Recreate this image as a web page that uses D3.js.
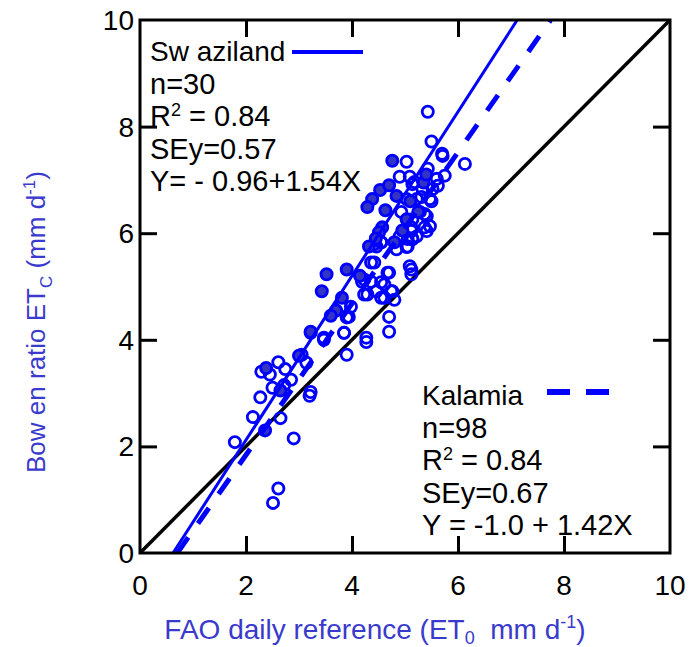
<!DOCTYPE html>
<html>
<head>
<meta charset="utf-8">
<script src="https://cdn.jsdelivr.net/npm/d3@7/dist/d3.min.js"></script>
<style>
  html, body { margin: 0; padding: 0; background: #fff; }
  svg { display: block; font-family: "Liberation Sans", Arial, sans-serif; }
  text { white-space: pre; }
</style>
</head>
<body>
<svg id="chart" width="690" height="647"></svg>
<script>
// ---------- data ----------
const xTicks = [0, 2, 4, 6, 8, 10];
const yTicks = [0, 2, 4, 6, 8, 10];

// Swaziland (filled circles)
const swazX = [4.76,4.53,4.38,4.29,4.84,4.57,4.80,4.32,5.03,4.63,3.90,3.52,3.43,3.81,3.22,2.36,2.38,4.51,5.10,5.35,5.25,4.95,3.70,3.00,2.65,4.45,5.40,4.15,3.60,4.70];
const swazY = [7.36,6.81,6.64,6.49,6.70,6.11,5.83,5.75,6.26,6.43,5.32,5.23,4.91,4.79,4.15,2.30,3.47,6.02,6.60,6.95,6.40,6.05,4.55,3.70,3.05,5.90,7.10,5.20,4.45,6.90];

// Kalamia (open circles)
const kalX = [1.79,2.13,2.27,2.65,2.90,2.61,2.51,2.29,2.61,2.74,2.50,2.72,3.14,3.22,3.05,3.22,3.47,2.45,2.85,3.20,
  4.42,4.36,4.70,4.23,4.55,4.29,4.46,4.74,4.80,4.61,5.12,5.12,3.79,3.98,3.90,3.85,3.90,4.70,4.70,4.27,3.47,5.05,5.22,4.90,4.46,4.55,4.42,4.67,4.36,4.19,4.61,4.76,4.23,4.55,3.94,3.85,4.27,
  5.43,5.50,5.71,6.13,5.03,5.09,4.90,5.43,5.60,5.75,5.52,5.33,5.14,5.47,5.22,5.03,5.28,5.14,5.41,5.37,5.12,5.14,5.05,5.47,4.55,5.62,5.18,5.31,5.50,4.93,5.37,5.12,5.41,5.14,5.03,5.09,4.84,5.70];
const kalY = [2.08,2.55,2.92,2.53,2.15,1.21,0.94,3.40,3.58,3.45,3.10,3.15,3.57,3.02,3.72,4.13,4.00,3.35,3.25,2.95,
  5.79,5.45,5.26,5.13,5.08,4.85,4.91,4.91,4.75,4.79,5.32,5.23,4.62,4.62,4.42,4.13,3.72,4.43,4.15,3.96,4.04,5.89,5.94,5.94,5.75,5.83,5.45,5.26,5.09,5.09,5.04,4.91,4.85,4.79,4.43,4.13,4.04,
  8.28,7.72,7.45,7.30,7.34,7.06,7.06,7.21,7.02,7.08,6.83,6.83,6.92,6.64,6.64,6.64,6.40,6.26,6.32,6.11,6.04,5.89,5.75,6.13,5.83,6.89,6.96,6.68,6.60,6.40,6.36,6.11,6.04,5.89,5.74,5.38,5.70,7.49];

// regression fits
const swazFit = { a: -0.96, b: 1.54 };
const kalFit = { a: -1.0, b: 1.42 };

const swazLegend = ["n=30", "R2 = 0.84", "SEy=0.57", "Y= - 0.96+1.54X"];
const kalLegend = ["n=98", "R2 = 0.84", "SEy=0.67", "Y = -1.0 + 1.42X"];

// ---------- layout ----------
const pLeft = 140, pRight = 670, pTop = 20, pBottom = 553;
const blue = "#0000ff";
const titleBlue = "#3a3acc";

const svg = d3.select("#chart");
const x = d3.scaleLinear().domain([0, 10]).range([pLeft, pRight]);
const y = d3.scaleLinear().domain([0, 10]).range([pBottom, pTop]);

const plot = svg.append("g");
const clipId = "clip";
svg.append("clipPath").attr("id", clipId)
  .append("rect").attr("x", pLeft).attr("y", pTop).attr("width", pRight - pLeft).attr("height", pBottom - pTop);

// 1:1 line
plot.append("line")
  .attr("x1", x(0)).attr("y1", y(0)).attr("x2", x(10)).attr("y2", y(10))
  .attr("stroke", "#000").attr("stroke-width", 3.5);

// fit lines
function fitLine(f) {
  const x0 = -f.a / f.b, x1 = (10 - f.a) / f.b;
  return [[x0, 0], [x1, 10]];
}
const line = d3.line().x(d => x(d[0])).y(d => y(d[1]));

// points
const pts = plot.append("g").attr("clip-path", `url(#${clipId})`);
pts.selectAll("circle.kal").data(d3.range(kalX.length)).join("circle")
  .attr("class", "kal")
  .attr("cx", i => x(kalX[i])).attr("cy", i => y(kalY[i])).attr("r", 5.6)
  .attr("fill", "none").attr("stroke", blue).attr("stroke-width", 2.8);
pts.selectAll("circle.swaz").data(d3.range(swazX.length)).join("circle")
  .attr("class", "swaz")
  .attr("cx", i => x(swazX[i])).attr("cy", i => y(swazY[i])).attr("r", 5.6)
  .attr("fill", "#3333c4").attr("stroke", blue).attr("stroke-width", 2.8);

pts.append("path").datum(fitLine(swazFit)).attr("d", line)
  .attr("fill", "none").attr("stroke", blue).attr("stroke-width", 3);
pts.append("path").datum(fitLine(kalFit)).attr("d", line)
  .attr("fill", "none").attr("stroke", blue).attr("stroke-width", 5)
  .attr("stroke-dasharray", "19,17");

// frame
svg.append("rect").attr("x", pLeft).attr("y", pTop).attr("width", pRight - pLeft).attr("height", pBottom - pTop)
  .attr("fill", "none").attr("stroke", "#000").attr("stroke-width", 3);

// axes with inward ticks
const tickLen = 17;
const axB = svg.append("g").attr("transform", `translate(0,${pBottom})`)
  .call(d3.axisBottom(x).tickValues(xTicks.slice(1, -1)).tickSize(-tickLen).tickFormat(""));
const axT = svg.append("g").attr("transform", `translate(0,${pTop})`)
  .call(d3.axisTop(x).tickValues(xTicks.slice(1, -1)).tickSize(-tickLen).tickFormat(""));
const axL = svg.append("g").attr("transform", `translate(${pLeft},0)`)
  .call(d3.axisLeft(y).tickValues(yTicks.slice(1, -1)).tickSize(-tickLen).tickFormat(""));
const axR = svg.append("g").attr("transform", `translate(${pRight},0)`)
  .call(d3.axisRight(y).tickValues(yTicks.slice(1, -1)).tickSize(-tickLen).tickFormat(""));
[axB, axT, axL, axR].forEach(a => {
  a.select(".domain").remove();
  a.selectAll(".tick line").attr("stroke", "#000").attr("stroke-width", 3);
});

// tick labels
svg.append("g").selectAll("text").data(xTicks).join("text")
  .attr("x", d => x(d)).attr("y", 595).attr("text-anchor", "middle")
  .attr("font-size", 28).attr("fill", "#000").text(d => d);
svg.append("g").selectAll("text").data(yTicks).join("text")
  .attr("x", 134).attr("y", d => y(d) + 10).attr("text-anchor", "end")
  .attr("font-size", 28).attr("fill", "#000").text(d => d);

// axis titles
const xt = svg.append("text").attr("x", 375).attr("y", 639).attr("text-anchor", "middle")
  .attr("font-size", 28).attr("fill", titleBlue);
xt.append("tspan").text("FAO daily reference (ET");
xt.append("tspan").attr("dy", 5).attr("font-size", 18).text("0");
xt.append("tspan").attr("dy", -5).text("  mm d");
xt.append("tspan").attr("dy", -11).attr("font-size", 18).text("-1");
xt.append("tspan").attr("dy", 11).text(")");

const yt = svg.append("text").attr("transform", "translate(45,322) rotate(-90)").attr("text-anchor", "middle")
  .attr("font-size", 26).attr("fill", titleBlue);
yt.append("tspan").text("Bow en ratio ET");
yt.append("tspan").attr("dy", 7).attr("font-size", 17).text("C");
yt.append("tspan").attr("dy", -7).text(" (mm d");
yt.append("tspan").attr("dy", -10).attr("font-size", 17).text("-1");
yt.append("tspan").attr("dy", 10).text(")");

// legends
function legendBlock(x0, y0, title, lines, dashed, lx1, lx2, ly) {
  const g = svg.append("g");
  g.append("text").attr("x", x0).attr("y", y0).attr("font-size", 28).attr("fill", "#000").text(title);
  lines.forEach((t, i) => {
    const tx = g.append("text").attr("x", x0).attr("y", y0 + 32.5 * (i + 1)).attr("font-size", 29).attr("fill", "#000");
    if (t.startsWith("R2")) {
      tx.append("tspan").text("R");
      tx.append("tspan").attr("dy", -10).attr("font-size", 18).text("2");
      tx.append("tspan").attr("dy", 10).text(t.slice(2));
    } else tx.text(t);
  });
  g.append("line").attr("x1", lx1).attr("x2", lx2).attr("y1", ly).attr("y2", ly)
    .attr("stroke", blue).attr("stroke-width", dashed ? 6 : 4)
    .attr("stroke-dasharray", dashed ? "23,16" : null);
}
legendBlock(150, 61, "Sw aziland", swazLegend, false, 292, 363, 52);
legendBlock(422, 405, "Kalamia", kalLegend, true, 547, 609, 392);
</script>
</body>
</html>
